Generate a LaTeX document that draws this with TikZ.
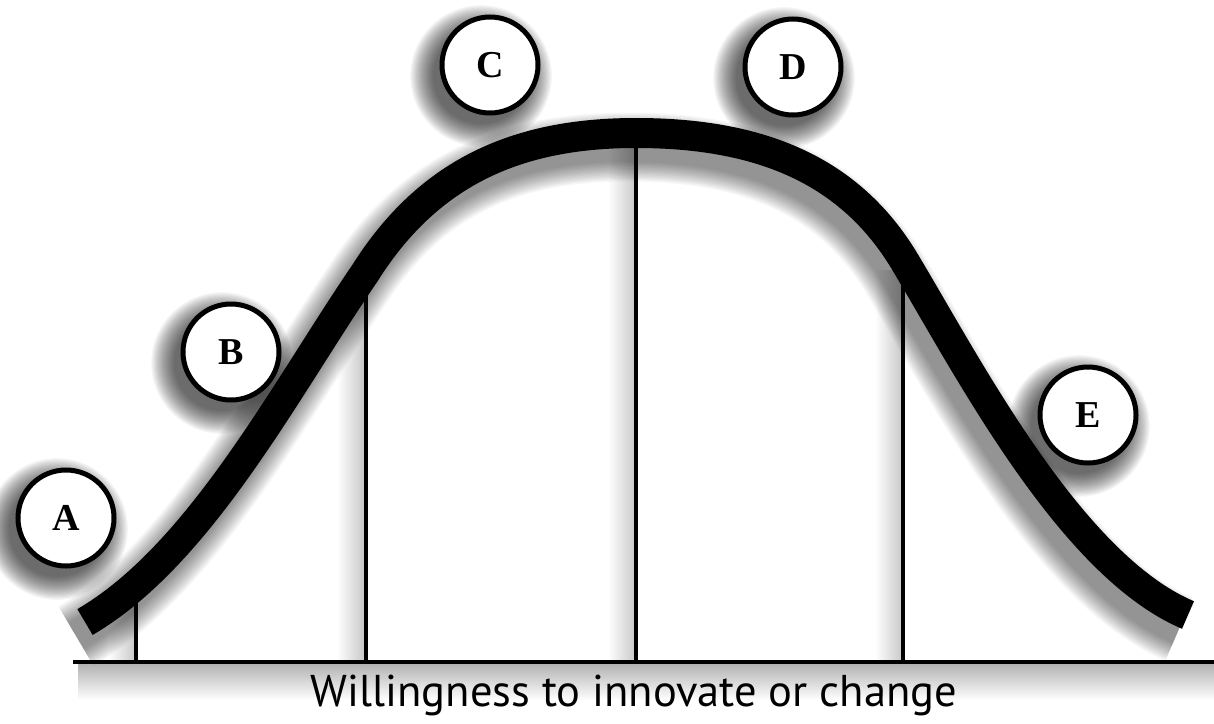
\documentclass[tikz,border=0pt]{standalone}
\usepackage{fontspec}
\setmainfont{Liberation Serif}
\newfontfamily\labelfont{PT Sans}
\newcommand\bellpath{(85,622) .. controls (200,555) and (285,390) .. (365,273)
  .. controls (430,170) and (520,133) .. (636,133)
  .. controls (760,133) and (850,170) .. (905,262)
  .. controls (968,367) and (1070,565) .. (1188,615)}
\tikzset{
  x=1pt, y=-1pt,
  letter/.style={circle, draw=black, line width=5pt, fill=white, minimum size=96pt,
    inner sep=0pt, font=\fontsize{38}{44}\selectfont\bfseries},
  divider/.style={line width=4pt, black},
  axis/.style={line width=4.5pt, black},
  curve/.style={line width=30pt, black, line cap=butt},
  glow/.style={left color=white, right color=black!22, draw=none},
  halo/.style={fill=black, opacity=0.04, draw=none},
}
\begin{document}
\begin{tikzpicture}
\useasboundingbox[fill=white] (0,0) rectangle (1214,723);
% baseline shadow
\shade[top color=black!30, bottom color=white, draw=none] (78,664) rectangle (1214,700);
% divider glows
\foreach \xx/\yy in {136/600, 365/285, 636/140, 903/270}{
  \shade[glow] (\xx-28,\yy) rectangle (\xx,662);
}
% curve shadow
\foreach \i in {0,...,15}{
  \draw[line width=30pt+2.6pt*\i, black, opacity=0.03, xshift=-9pt, yshift=-14pt] \bellpath;
}
% coordinates
\coordinate (a0) at (136,662); \coordinate (a1) at (136,600);
\coordinate (b0) at (366,662); \coordinate (b1) at (366,280);
\coordinate (c0) at (636,662); \coordinate (c1) at (636,140);
\coordinate (d0) at (903,662); \coordinate (d1) at (903,265);
\coordinate (l) at (73,662); \coordinate (r) at (1214,662);
\draw[divider] (a0) -- (a1);
\draw[divider] (b0) -- (b1);
\draw[divider] (c0) -- (c1);
\draw[divider] (d0) -- (d1);
\draw[axis] (l) -- (r);
\draw[curve] \bellpath;
% circle shadows
\foreach \cx/\cy in {66/518, 231/352, 490/65, 793/67, 1088/415}{
  \foreach \i in {0,...,19}{
    \fill[halo] (\cx-9,\cy+11) circle[radius=48pt+1.2pt*\i];
  }
}
% circles
\node[letter] (A) at (66,518) {A};
\node[letter] (B) at (231,352) {B};
\node[letter] (C) at (490,65) {C};
\node[letter] (D) at (793,67) {D};
\node[letter] (E) at (1088,415) {E};
\node[font=\labelfont\fontsize{44.5}{52}\selectfont] (T) at (634,695) {Willingness to innovate or change};
\end{tikzpicture}
\end{document}
